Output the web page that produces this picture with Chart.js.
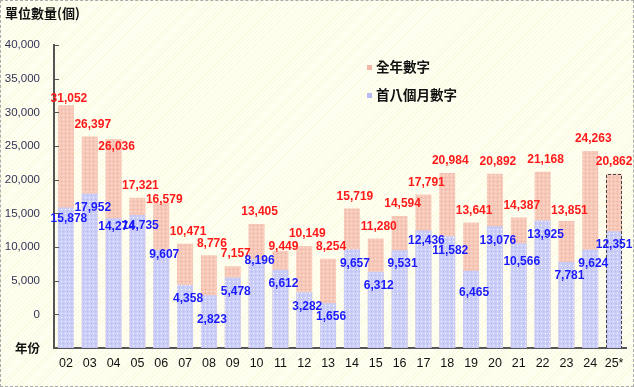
<!DOCTYPE html>
<html>
<head>
<meta charset="utf-8">
<script src="https://cdn.jsdelivr.net/npm/chart.js@4/dist/chart.umd.min.js"></script>
<style>
  html, body { margin: 0; padding: 0; }
  body { width: 634px; height: 387px; overflow: hidden;
         background: repeating-linear-gradient(135deg, #fffff4 0px, #fffff4 2px, #fafadf 2px, #fafadf 3px); }
  #wrap { position: relative; width: 634px; height: 387px; }
  #frame { position: absolute; left: 0; top: 0; width: 632px; height: 385px;
           border: 1px dashed #aaa; pointer-events: none; }
  #title { position: absolute; left: 5px; top: 4px; font: bold 13px "Noto Sans CJK TC", sans-serif;
           color: #111; line-height: 18px; letter-spacing: 0px; }
  .leg { position: absolute; left: 367px; font: bold 13.5px "Noto Sans CJK TC", sans-serif; color: #111;
         line-height: 18px; white-space: nowrap; }
  .leg i { display: inline-block; width: 5px; height: 5px; margin-right: 4px; vertical-align: middle;
           position: relative; top: -1px; }
</style>
</head>
<body>
<div id="wrap">
  <canvas id="c" width="634" height="387"></canvas>
  <div id="title">單位數量(個)</div>
  <div class="leg" id="leg1" style="top:57px"><i style="background:#f2b9a9"></i>全年數字</div>
  <div class="leg" id="leg2" style="top:85px"><i style="background:#b9bcf3"></i>首八個月數字</div>
  <div id="frame"></div>
</div>
<script>
// ---- data ----
const years = ['02','03','04','05','06','07','08','09','10','11','12','13','14','15','16','17','18','19','20','21','22','23','24','25*'];
const fullYear = [31052, 26397, 26036, 17321, 16579, 10471, 8776, 7157, 13405, 9449, 10149, 8254, 15719, 11280, 14594, 17791, 20984, 13641, 20892, 14387, 21168, 13851, 24263, 20862];
const firstEight = [15878, 17952, 14274, 14735, 9607, 4358, 2823, 5478, 8196, 6612, 3282, 1656, 9657, 6312, 9531, 12436, 11582, 6465, 13076, 10566, 13925, 7781, 9624, 12351];
const yTicksMin = -5000, yTicksMax = 40000, yStep = 5000;
const seriesNames = ['全年數字', '首八個月數字'];
const axisTitleX = '年份';

// ---- label placement tweaks (styling, not data) ----
const pinkNudge = { '02': -7, '04': 8, '06': -3, '11': -4, '23': -10 };
const blueNudge = { '02': 11, '04': 8, '05': 11, '06': 5, '08': 24, '10': 2, '17': 10, '19': 22, '21': 18 };
const xNudge = { '25*': -3 };

function makePattern(base, dot1, dot2) {
  const p = document.createElement('canvas'); p.width = 4; p.height = 4;
  const g = p.getContext('2d');
  g.fillStyle = base; g.fillRect(0, 0, 4, 4);
  g.fillStyle = dot1; g.fillRect(1, 1, 1, 1);
  g.fillStyle = dot2; g.fillRect(3, 3, 1, 1);
  return g.createPattern(p, 'repeat');
}
const ctx0 = document.getElementById('c').getContext('2d');
const pinkFill = makePattern('#f7c9b9', '#e9a7a0', '#fbdcd0');
const blueFill = makePattern('#cacdf8', '#ffffff', '#b9bcf0');

const fmt = v => v.toLocaleString('en-US');

const labelPlugin = {
  id: 'barLabels',
  afterDatasetsDraw(chart) {
    const c = chart.ctx;
    c.save();
    c.font = 'bold 12px "Liberation Sans", Arial, sans-serif';
    c.textAlign = 'center';
    c.textBaseline = 'middle';
    const pinkMeta = chart.getDatasetMeta(1);
    const last = pinkMeta.data[pinkMeta.data.length - 1];
    if (last) {
      const w = last.width;
      c.save();
      c.strokeStyle = '#444';
      c.lineWidth = 1;
      c.setLineDash([3, 2]);
      c.beginPath();
      c.moveTo(Math.round(last.x - w / 2) + 0.5, last.base);
      c.lineTo(Math.round(last.x - w / 2) + 0.5, Math.round(last.y) + 0.5);
      c.lineTo(Math.round(last.x + w / 2) - 0.5, Math.round(last.y) + 0.5);
      c.lineTo(Math.round(last.x + w / 2) - 0.5, last.base);
      c.stroke();
      c.restore();
    }
    pinkMeta.data.forEach((el, i) => {
      const k = years[i];
      const dy = pinkNudge[k] !== undefined ? pinkNudge[k] : -12;
      c.fillStyle = '#ff1a1a';
      c.fillText(fmt(fullYear[i]), el.x + 3 + (xNudge[k] || 0), el.y + dy);
    });
    const blueMeta = chart.getDatasetMeta(0);
    blueMeta.data.forEach((el, i) => {
      const k = years[i];
      const dy = blueNudge[k] !== undefined ? blueNudge[k] : 14;
      c.fillStyle = '#1a1aff';
      c.fillText(fmt(firstEight[i]), el.x + 3 + (xNudge[k] || 0), el.y + dy);
    });
    c.restore();
  }
};

const tickMarks = {
  id: 'tickMarks',
  afterDraw(chart) {
    const y = chart.scales.y; const c = chart.ctx;
    c.save();
    c.strokeStyle = '#555'; c.lineWidth = 1;
    y.ticks.forEach(t => {
      if (t.value === yTicksMin) return;
      const py = Math.round(y.getPixelForValue(t.value)) + 0.5;
      c.beginPath(); c.moveTo(chart.chartArea.left, py); c.lineTo(chart.chartArea.left + 5, py); c.stroke();
    });
    c.restore();
  }
};

new Chart(ctx0, {
  type: 'bar',
  data: {
    labels: years,
    datasets: [
      { label: seriesNames[1], data: firstEight, backgroundColor: blueFill, base: yTicksMin, grouped: false,
        barPercentage: 0.67, categoryPercentage: 1, borderWidth: 0 },
      { label: seriesNames[0], data: fullYear, backgroundColor: pinkFill, base: yTicksMin, grouped: false,
        barPercentage: 0.67, categoryPercentage: 1, borderWidth: 0 }
    ]
  },
  options: {
    responsive: false,
    animation: false,
    events: [],
    layout: { padding: { top: 45, right: 8, left: 0, bottom: 0 } },
    plugins: { legend: { display: false }, tooltip: { enabled: false } },
    scales: {
      x: {
        offset: true,
        grid: { display: false, drawTicks: false },
        border: { display: true, color: '#555', width: 2 },
        ticks: { color: '#111', padding: 8, maxRotation: 0, minRotation: 0, autoSkip: false,
                 font: { family: '"Liberation Sans", Arial, sans-serif', size: 12.5 } },
        afterFit: s => { s.height = 39; }
      },
      y: {
        min: yTicksMin, max: yTicksMax,
        grid: { display: false, drawTicks: false },
        border: { display: true, color: '#555', width: 2 },
        afterFit: s => { s.width = 54; },
        ticks: {
          stepSize: yStep,
          padding: 14,
          callback: v => v === yTicksMin ? axisTitleX : fmt(v),
          color: c => (c.tick && c.tick.value === yTicksMin) ? '#111' : '#333355',
          font: c => (c.tick && c.tick.value === yTicksMin)
            ? { family: '"Noto Sans CJK TC", sans-serif', size: 12.5, weight: 'bold' }
            : { family: '"Liberation Sans", Arial, sans-serif', size: 11.5 }
        }
      }
    }
  },
  plugins: [labelPlugin, tickMarks]
});
</script>
</body>
</html>
